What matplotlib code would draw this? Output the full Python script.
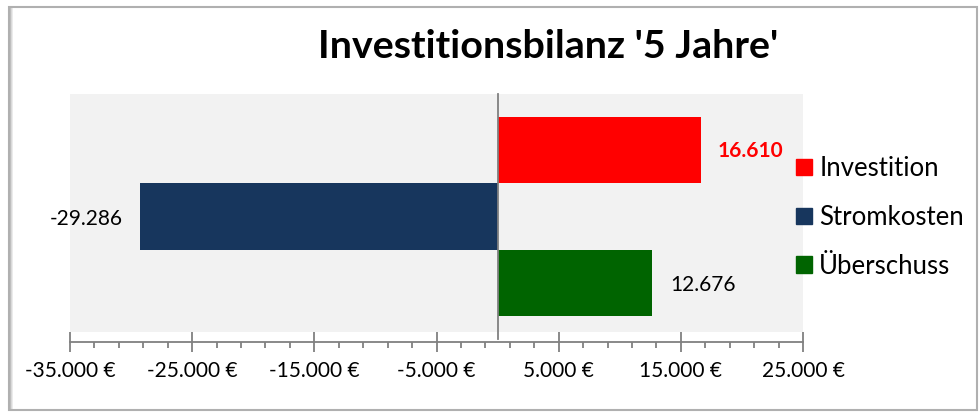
import matplotlib.pyplot as plt
import matplotlib.patches as mpatches
from matplotlib.ticker import FuncFormatter, MultipleLocator

plt.rcParams['font.family'] = ['Lato', 'DejaVu Sans']

# data
series = ['Investition', 'Stromkosten', 'Überschuss']
values = [16610, -29286, 12676]
colors = ['#FF0000', '#17365D', '#006400']
ypos = [2, 1, 0]

fig = plt.figure(figsize=(9.8, 4.18), dpi=100)
ax = fig.add_axes([70/980, 1 - 332/418, 733/980, 238/418])
ax.set_facecolor('#F2F2F2')

for y, v, c, name in zip(ypos, values, colors, series):
    ax.barh(y, v, height=1.0, color=c, label=name, zorder=2)

ax.set_xlim(-35000, 25000)
ax.set_ylim(-0.74, 2.85)

# zero line
ax.axvline(0, ymin=-7/238, ymax=1, color='#808080', lw=1.3, zorder=3, clip_on=False)

# data labels
def fmt(v):
    return f"{v:,.0f}".replace(',', '.')

for y, v in zip(ypos, values):
    if v < 0:
        ax.annotate(fmt(v), (v, y), xytext=(-12, -6), textcoords='offset points',
                    ha='right', va='baseline', fontsize=15, color='black')
    elif v == values[0]:
        ax.annotate(fmt(v), (v, y), xytext=(12, -5), textcoords='offset points',
                    ha='left', va='baseline', fontsize=15, color='#FF0000', fontweight='bold')
    else:
        ax.annotate(fmt(v), (v, y), xytext=(13, -6), textcoords='offset points',
                    ha='left', va='baseline', fontsize=15, color='black')

# axes styling
for s in ['top', 'right', 'left']:
    ax.spines[s].set_visible(False)
ax.spines['bottom'].set_position(('outward', 7))
ax.spines['bottom'].set_color('#808080')
ax.spines['bottom'].set_linewidth(1.3)
ax.set_yticks([])
ax.xaxis.set_major_locator(MultipleLocator(10000, offset=5000))
ax.xaxis.set_minor_locator(MultipleLocator(2000, offset=1000))
ax.tick_params(axis='x', which='major', direction='inout', length=14, width=1.3,
               color='#808080', labelsize=15, pad=6.7)
ax.tick_params(axis='x', which='minor', direction='out', length=4, width=1.3, color='#808080')
ax.xaxis.set_major_formatter(FuncFormatter(lambda x, p: fmt(x) + ' €'))

# title
fig.text(548/980, 1 - 58/418, "Investitionsbilanz '5 Jahre'", ha='center', va='baseline',
         fontsize=28.4, fontweight='bold')

# legend
handles = [mpatches.Patch(color=c, label=n) for c, n in zip(colors, series)]
fig.legend(handles=handles, loc='upper left', bbox_to_anchor=(796/980, 1 - 156/418),
           frameon=False, fontsize=18.5, handlelength=0.62, handleheight=0.62,
           handletextpad=0.28, labelspacing=0.93, borderaxespad=0, borderpad=0)

# outer frame with shadow
for i, a in enumerate([0.35, 0.25, 0.15, 0.08]):
    fig.add_artist(mpatches.Rectangle((9/980 + i/980, 8/418), 1/980, 403/418,
                                      transform=fig.transFigure, color='black', alpha=a, lw=0))
fig.add_artist(mpatches.Rectangle((9/980, 8/418), 968/980, 403/418, transform=fig.transFigure,
                                  fill=False, edgecolor='#B0B0B0', lw=1.5))

fig.savefig('out.png', dpi=100)
